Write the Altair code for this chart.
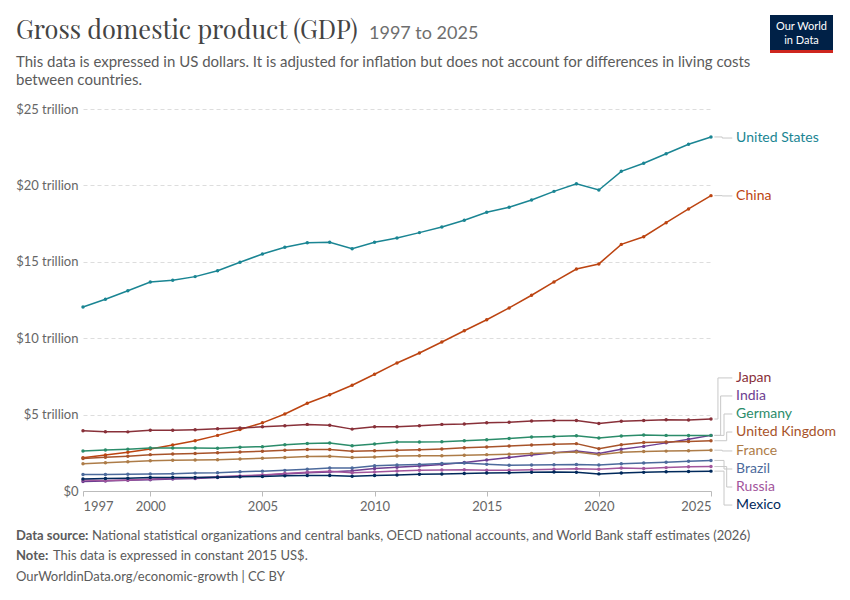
import altair as alt
import pandas as pd

years = list(range(1997, 2026))
countries = ["United States", "China", "Japan", "India", "Germany",
             "United Kingdom", "France", "Brazil", "Russia", "Mexico"]
colors = ["#1a8593", "#bc4411", "#883039", "#6D3E91", "#2b8c6a",
          "#a7532a", "#ad7c48", "#4C6A9C", "#A2559C", "#00295B"]

# GDP, trillions of constant 2015 US$
us = [12.04, 12.55, 13.11, 13.68, 13.79, 14.03, 14.42, 14.97, 15.51, 15.95,
      16.25, 16.28, 15.86, 16.28, 16.56, 16.91, 17.28, 17.72, 18.24, 18.57,
      19.04, 19.61, 20.11, 19.70, 20.92, 21.45, 22.07, 22.69, 23.17]
china = [2.17, 2.36, 2.53, 2.75, 3.01, 3.29, 3.64, 4.02, 4.46, 5.04,
         5.74, 6.30, 6.92, 7.64, 8.38, 9.03, 9.75, 10.49, 11.21, 11.98,
         12.81, 13.68, 14.53, 14.86, 16.14, 16.64, 17.56, 18.46, 19.33]
japan = [3.95, 3.88, 3.87, 3.97, 3.98, 4.01, 4.07, 4.13, 4.20, 4.27,
         4.36, 4.31, 4.05, 4.21, 4.21, 4.27, 4.36, 4.38, 4.47, 4.50,
         4.58, 4.62, 4.61, 4.42, 4.56, 4.62, 4.67, 4.65, 4.71]
india = [0.62, 0.66, 0.71, 0.74, 0.78, 0.81, 0.88, 0.95, 1.03, 1.11,
         1.20, 1.24, 1.33, 1.47, 1.55, 1.64, 1.74, 1.87, 2.03, 2.20,
         2.36, 2.51, 2.61, 2.45, 2.73, 2.92, 3.15, 3.38, 3.64]
germany = [2.62, 2.68, 2.74, 2.81, 2.82, 2.82, 2.80, 2.87, 2.90, 3.02,
           3.11, 3.14, 2.96, 3.08, 3.20, 3.21, 3.23, 3.29, 3.36, 3.43,
           3.53, 3.57, 3.61, 3.47, 3.60, 3.66, 3.64, 3.63, 3.64]
uk = [2.12, 2.21, 2.28, 2.38, 2.42, 2.46, 2.50, 2.55, 2.60, 2.66,
      2.72, 2.72, 2.60, 2.64, 2.67, 2.70, 2.75, 2.83, 2.88, 2.94,
      3.01, 3.06, 3.10, 2.77, 3.02, 3.17, 3.20, 3.24, 3.29]
france = [1.78, 1.85, 1.91, 1.98, 2.01, 2.03, 2.05, 2.09, 2.14, 2.19,
          2.26, 2.27, 2.19, 2.23, 2.29, 2.30, 2.31, 2.34, 2.38, 2.41,
          2.46, 2.50, 2.55, 2.37, 2.53, 2.58, 2.61, 2.64, 2.67]
brazil = [1.08, 1.08, 1.09, 1.12, 1.13, 1.17, 1.19, 1.26, 1.30, 1.35,
          1.43, 1.50, 1.50, 1.65, 1.70, 1.74, 1.80, 1.83, 1.75, 1.68,
          1.70, 1.72, 1.74, 1.70, 1.78, 1.83, 1.88, 1.94, 2.00]
russia = [0.72, 0.68, 0.72, 0.79, 0.83, 0.87, 0.93, 0.99, 1.05, 1.14,
          1.23, 1.30, 1.20, 1.25, 1.31, 1.36, 1.38, 1.39, 1.36, 1.36,
          1.39, 1.43, 1.46, 1.42, 1.50, 1.47, 1.53, 1.59, 1.60]
mexico = [0.78, 0.82, 0.84, 0.88, 0.88, 0.88, 0.90, 0.93, 0.95, 0.99,
          1.01, 1.02, 0.97, 1.02, 1.05, 1.09, 1.11, 1.14, 1.18, 1.20,
          1.22, 1.24, 1.22, 1.12, 1.18, 1.22, 1.26, 1.28, 1.30]
series = [us, china, japan, india, germany, uk, france, brazil, russia, mexico]

x_ticks = [1997, 2000, 2005, 2010, 2015, 2020, 2025]
y_ticks = [0, 5, 10, 15, 20, 25]

# end-label placement (value units) and connector elbows (year units)
label_y = [23.10, 19.31, 7.40, 6.22, 5.04, 3.86, 2.62, 1.44, 0.26, -0.92]
elbow_x = [2025.5, 2025.5, 2025.31, 2025.43, 2025.58, 2025.70, 2025.5, 2025.58, 2025.70, 2025.58]
conn_start, conn_end, label_x = 2025.15, 2025.95, 2026.12

rows = []
for c, vals in zip(countries, series):
    for yr, v in zip(years, vals):
        rows.append({"country": c, "year": yr, "gdp": v})
df = pd.DataFrame(rows)

lab = pd.DataFrame({"country": countries, "year": [label_x] * len(countries), "gdp": label_y})

crow = []
for c, vals, ly, ex in zip(countries, series, label_y, elbow_x):
    end = vals[-1]
    pts = [(conn_start, end), (ex, end), (ex, ly), (conn_end, ly)]
    for i, (px, py) in enumerate(pts):
        crow.append({"country": c, "year": px, "gdp": py, "o": i})
conn = pd.DataFrame(crow)

xs = alt.Scale(domain=[1997, 2025], nice=False, zero=False)
ys = alt.Scale(domain=[0, 25], nice=False)
cs = alt.Scale(domain=countries, range=colors)

x_enc = alt.X("year:Q", scale=xs, title=None,
              axis=alt.Axis(values=x_ticks, format="d", title=None, grid=False,
                            labelFlush=True, tickSize=5, domainColor="#bbb",
                            tickColor="#bbb", labelColor="#666", labelFont="Lato",
                            labelFontSize=13, labelPadding=4))
y_enc = alt.Y("gdp:Q", scale=ys, title=None,
              axis=alt.Axis(values=y_ticks, title=None, domain=False, ticks=False,
                            labelExpr="datum.value == 0 ? '$0' : '$' + datum.value + ' trillion'",
                            gridDash=[4, 3], gridColor="#ddd", labelColor="#666",
                            labelFont="Lato", labelFontSize=13, labelPadding=5))
c_enc = alt.Color("country:N", scale=cs, legend=None)

lines = alt.Chart(df).mark_line(strokeWidth=1.5).encode(x=x_enc, y=y_enc, color=c_enc, detail="country:N")
points = alt.Chart(df).mark_circle(size=12, opacity=1).encode(x=x_enc, y=y_enc, color=c_enc)
connectors = alt.Chart(conn).mark_line(strokeWidth=1, color="#c8c8c8").encode(
    x=x_enc, y=y_enc, detail="country:N", order="o:Q")
labels = alt.Chart(lab).mark_text(align="left", baseline="middle", font="Lato", fontSize=14).encode(
    x=x_enc, y=y_enc, color=c_enc, text="country:N")

one = pd.DataFrame({"a": [0]})


def txt(s, x, y, size=13, color="#5b5b5b", font="Lato", weight="normal", align="left", baseline="middle"):
    return alt.Chart(one).mark_text(text=s, font=font, fontSize=size, color=color, fontWeight=weight,
                                    align=align, baseline=baseline).encode(x=alt.value(x), y=alt.value(y))


OX, OY = 83, 109  # plot origin on page
annots = [
    txt("Gross domestic product (GDP)", 16 - OX, 39 - OY, size=25.3, color="#444",
        font="Playfair Display, Liberation Serif, serif", baseline="alphabetic"),
    txt("1997 to 2025", 369 - OX, 39 - OY, size=18, color="#6e6e6e", baseline="alphabetic"),
    txt("This data is expressed in US dollars. It is adjusted for inflation but does not account for differences in living costs",
        16 - OX, 62 - OY, size=15),
    txt("between countries.", 16 - OX, 80 - OY, size=15),
    txt("Data source:", 16 - OX, 536 - OY, weight="bold"),
    txt("National statistical organizations and central banks, OECD national accounts, and World Bank staff estimates (2026)",
        92 - OX, 536 - OY),
    txt("Note:", 16 - OX, 556 - OY, weight="bold"),
    txt("This data is expressed in constant 2015 US$.", 53 - OX, 556 - OY),
    txt("OurWorldinData.org/economic-growth | CC BY", 16 - OX, 577 - OY),
]

logo_box = alt.Chart(one).mark_rect(color="#002147").encode(
    x=alt.value(770 - OX), x2=alt.value(833 - OX), y=alt.value(15 - OY), y2=alt.value(50 - OY))
logo_bar = alt.Chart(one).mark_rect(color="#ce261e").encode(
    x=alt.value(770 - OX), x2=alt.value(833 - OX), y=alt.value(50 - OY), y2=alt.value(53 - OY))
logo_t1 = txt("Our World", 801.5 - OX, 27 - OY, size=11, color="#ffffff", align="center")
logo_t2 = txt("in Data", 801.5 - OX, 40.5 - OY, size=11, color="#ffffff", align="center")

chart = alt.layer(lines, points, connectors, labels, *annots, logo_box, logo_bar, logo_t1, logo_t2).properties(
    width=628, height=382,
    autosize=alt.AutoSizeParams(type="none"),
    padding={"left": OX - 8, "top": OY - 8, "right": 131, "bottom": 101},
).configure_view(stroke=None)

chart.save("out.html", embed_options={"renderer": "svg", "actions": False})
